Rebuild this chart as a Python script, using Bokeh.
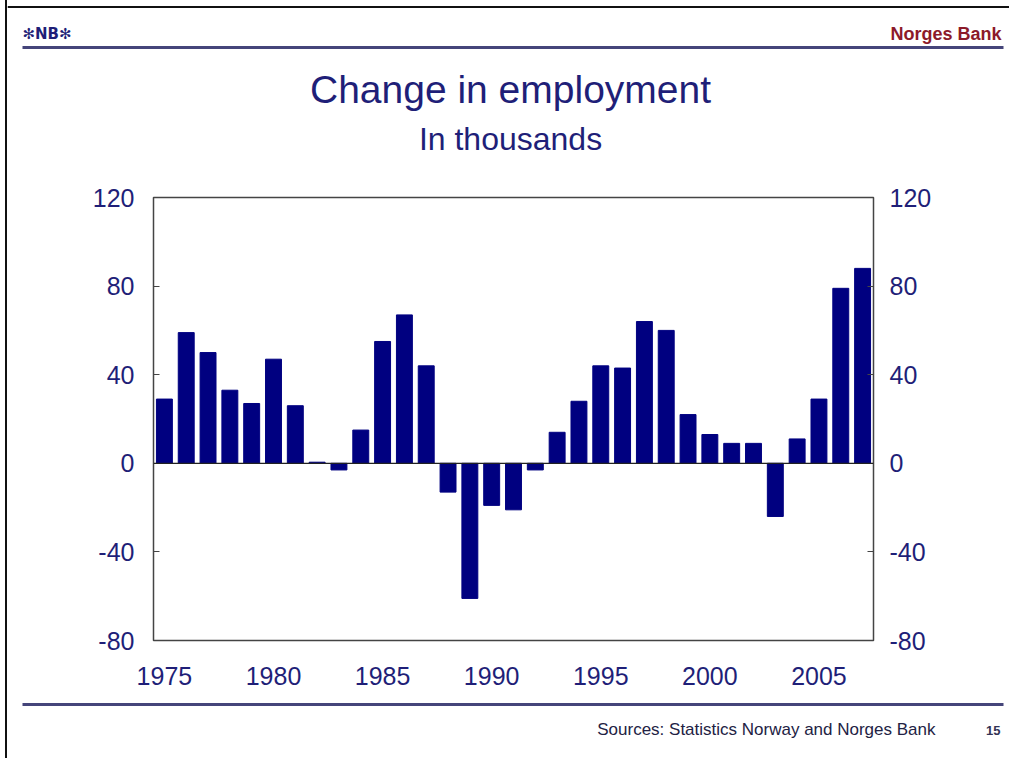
from bokeh.plotting import figure
from bokeh.models import Range1d, LinearAxis, FixedTicker, Span
from bokeh.layouts import column
from bokeh.core.properties import value
from bokeh.embed import file_html
from bokeh.resources import INLINE

years = list(range(1975, 2008))
change = [29, 59, 50, 33, 27, 47, 26, 0.5, -3, 15, 55, 67, 44, -13, -61, -19,
          -21, -3, 14, 28, 44, 43, 64, 60, 22, 13, 9, 9, -24, 11, 29, 79, 88]
y_ticks = [-80, -40, 0, 40, 80, 120]
x_ticks = [1975, 1980, 1985, 1990, 1995, 2000, 2005]

title = "Change in employment"
subtitle = "In thousands"
source = "Sources: Statistics Norway and Norges Bank"
bank = "Norges Bank"
logo = "\u273bNB\u273b"
page_no = "15"

NAVY = "#1f1f78"
BAR = "#000080"
RULE = "#45457a"
RED = "#8c1a2a"
FONT = "Liberation Sans"

OX = 7          # left offset of the content (css border)
W = 1009 - OX

def blank(h, y_top):
    f = figure(width=W, height=h, output_backend="svg", toolbar_location=None,
               x_range=Range1d(OX, 1009), y_range=Range1d(y_top + h, y_top),
               x_axis_type=None, y_axis_type=None,
               min_border_left=0, min_border_right=0, min_border_top=0, min_border_bottom=0)
    f.frame_align = False
    f.outline_line_color = None
    f.xgrid.visible = False
    f.ygrid.visible = False
    f.background_fill_color = "white"
    f.border_fill_color = "white"
    return f

# ---------- header ----------
head = blank(180, 0)
head.segment(x0=[OX], y0=[6.5], x1=[1009], y1=[6.5], line_color="#111111", line_width=2)
head.segment(x0=[22], y0=[47], x1=[1003], y1=[47], line_color=RULE, line_width=3)
head.text(x=[22], y=[33], text=[logo], text_font=value("DejaVu Sans"), text_font_style="bold",
          text_font_size="15px", text_color=NAVY, text_align="left", text_baseline="middle")
head.text(x=[1001], y=[33], text=[bank], text_font=value(FONT), text_font_style="bold",
          text_font_size="18px", text_color=RED, text_align="right", text_baseline="middle")
head.text(x=[510], y=[89], text=[title], text_font=value(FONT),
          text_font_size="39px", text_color=NAVY, text_align="center", text_baseline="middle")
head.text(x=[510], y=[138], text=[subtitle], text_font=value(FONT),
          text_font_size="32px", text_color=NAVY, text_align="center", text_baseline="middle")

# ---------- main chart ----------
p = figure(width=W, height=520, output_backend="svg", toolbar_location=None,
           x_range=Range1d(1974.5, 2007.5), y_range=Range1d(-80, 120),
           min_border_left=153 - OX, min_border_right=136, min_border_top=17,
           min_border_bottom=60)
p.frame_align = False
p.background_fill_color = "white"
p.border_fill_color = "white"
p.xgrid.visible = False
p.ygrid.visible = False
p.outline_line_color = "#444444"
p.outline_line_width = 1.5

p.vbar(x=years, top=change, bottom=0, width=0.73, fill_color=BAR, line_color=BAR)
p.add_layout(Span(location=0, dimension="width", line_color="#222222", line_width=1.2))

overrides = {t: str(t) for t in y_ticks}

def style_y(ax, standoff):
    ax.ticker = FixedTicker(ticks=y_ticks)
    ax.major_label_overrides = overrides
    ax.major_tick_in = 6
    ax.major_tick_out = 0
    ax.minor_tick_line_color = None
    ax.axis_line_color = None
    ax.major_tick_line_color = "#444444"
    ax.major_label_text_font = FONT
    ax.major_label_text_font_size = "25px"
    ax.major_label_text_color = NAVY
    ax.major_label_standoff = standoff

for ax in p.yaxis:
    style_y(ax, 19)
right = LinearAxis()
style_y(right, 16)
p.add_layout(right, "right")

for ax in p.xaxis:
    ax.ticker = FixedTicker(ticks=x_ticks)
    ax.major_tick_line_color = None
    ax.minor_tick_line_color = None
    ax.axis_line_color = None
    ax.major_label_text_font = FONT
    ax.major_label_text_font_size = "25px"
    ax.major_label_text_color = NAVY
    ax.major_label_standoff = 20

# ---------- footer ----------
foot = blank(58, 700)
foot.segment(x0=[22], y0=[704], x1=[1003], y1=[704], line_color=RULE, line_width=3)
foot.text(x=[935], y=[729], text=[source], text_font=value(FONT),
          text_font_size="17px", text_color="#222244", text_align="right", text_baseline="middle")
foot.text(x=[1000], y=[730], text=[page_no], text_font=value(FONT), text_font_style="bold",
          text_font_size="13px", text_color="#333355", text_align="right", text_baseline="middle")

layout = column(head, p, foot, spacing=0,
                styles={"margin-left": "5px", "border-left": "2px solid #111111"})

open("out.html", "w").write(file_html(layout, INLINE))
